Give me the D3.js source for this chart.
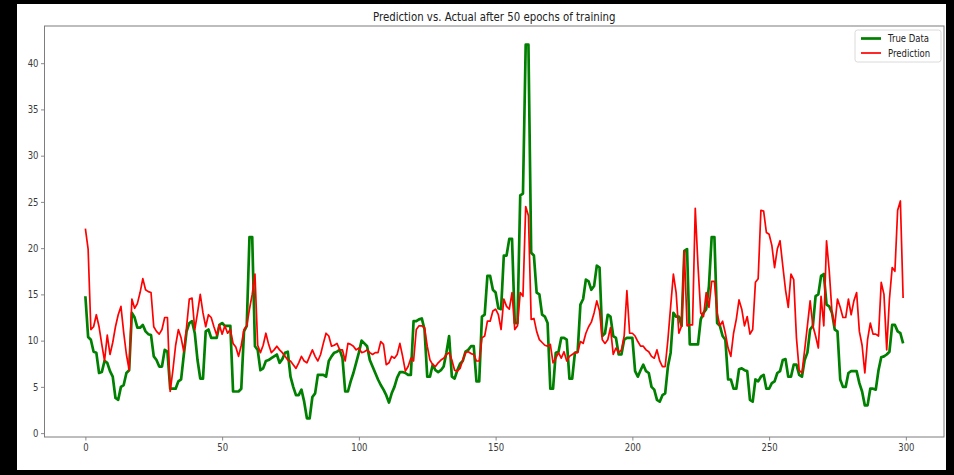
<!DOCTYPE html>
<html>
<head>
<meta charset="utf-8">
<script src="https://cdn.jsdelivr.net/npm/d3@7"></script>
<style>
  html, body { margin: 0; padding: 0; background: #000; }
  svg { display: block; }
  text { font-family: "DejaVu Sans", sans-serif; }
</style>
</head>
<body>
<svg id="chart" width="954" height="475"></svg>
<script>
// Measured series (one value per time step)
const trueData = [
  14.8, 10.4, 10.1, 8.8, 8.7, 6.5, 6.6, 7.8, 7.6, 6.7,
  6.1, 3.8, 3.6, 5.0, 5.2, 6.5, 6.8, 13.0, 12.5, 11.4,
  11.4, 11.7, 11.0, 10.7, 10.6, 8.3, 7.9, 7.2, 7.2, 9.0,
  8.8, 4.8, 4.8, 4.8, 5.6, 5.8, 8.5, 11.0, 11.9, 12.1,
  10.8, 7.9, 5.9, 5.9, 11.0, 11.2, 10.3, 10.3, 10.3, 11.7,
  11.9, 11.6, 11.6, 11.6, 4.5, 4.5, 4.5, 4.8, 11.0, 11.6,
  21.2, 21.2, 9.4, 9.0, 6.8, 7.0, 7.8, 7.9, 8.1, 8.3,
  8.5, 7.6, 8.0, 8.7, 8.8, 6.1, 5.0, 4.1, 4.1, 4.7,
  3.4, 1.6, 1.6, 3.9, 4.3, 6.3, 6.3, 6.3, 6.1, 7.8,
  8.3, 8.7, 8.8, 9.0, 8.1, 4.5, 4.5, 5.6, 6.5, 7.6,
  8.7, 10.0, 9.7, 9.4, 7.9, 7.2, 6.5, 5.8, 5.2, 4.7,
  4.1, 3.3, 4.3, 5.0, 6.0, 6.6, 6.6, 6.5, 6.3, 6.3,
  12.1, 12.1, 12.3, 12.4, 11.2, 6.1, 6.1, 7.4, 6.8, 6.6,
  6.8, 7.2, 8.7, 10.5, 6.1, 5.9, 6.8, 7.5, 7.8, 8.8,
  9.0, 9.4, 9.4, 5.6, 5.6, 12.6, 12.8, 17.0, 17.0, 15.5,
  15.2, 13.5, 13.4, 19.2, 19.2, 21.0, 21.0, 11.9, 11.9, 25.7,
  25.9, 42.0, 42.0, 19.5, 19.2, 15.2, 15.0, 12.8, 12.6, 11.9,
  4.8, 4.8, 8.7, 8.8, 10.3, 10.3, 10.1, 5.9, 5.9, 8.7,
  8.8, 13.9, 14.5, 16.6, 16.4, 15.5, 15.9, 18.1, 17.9, 10.5,
  10.8, 12.8, 12.6, 10.5, 10.3, 8.5, 8.5, 10.1, 10.3, 10.3,
  10.3, 6.7, 6.1, 6.8, 7.4, 6.7, 6.5, 5.0, 4.7, 3.6,
  3.4, 4.1, 4.3, 7.2, 8.7, 13.0, 12.6, 12.6, 11.6, 19.7,
  19.9, 9.6, 9.6, 9.6, 9.6, 12.3, 13.0, 13.4, 15.9, 21.2,
  21.2, 11.9, 11.6, 10.5, 10.1, 5.8, 5.8, 4.8, 4.8, 6.9,
  7.0, 6.8, 6.7, 3.6, 3.4, 5.8, 5.6, 6.1, 6.3, 4.8,
  4.8, 5.4, 5.6, 6.5, 6.7, 7.9, 8.0, 6.1, 6.1, 7.4,
  7.4, 6.3, 6.1, 7.9, 8.7, 11.2, 11.6, 14.8, 15.0, 17.0,
  17.2, 13.9, 13.7, 13.0, 11.2, 11.0, 5.8, 5.0, 5.0, 6.5,
  6.7, 6.7, 6.7, 5.4, 4.5, 3.0, 3.0, 4.8, 4.8, 4.7,
  6.8, 8.2, 8.3, 8.5, 8.8, 11.7, 11.7, 11.0, 10.8, 9.7
];

// Model output for the same time steps
const prediction = [
  22.1, 19.9, 11.2, 11.5, 12.8, 11.5, 9.6, 7.8, 10.6, 8.5,
  9.8, 11.5, 12.8, 13.7, 10.9, 8.5, 6.8, 14.5, 13.5, 14.0,
  15.2, 16.7, 15.5, 15.3, 15.2, 11.5, 11.0, 10.7, 11.2, 12.5,
  12.5, 4.5, 6.8, 9.5, 11.2, 10.3, 8.8, 11.5, 14.5, 14.6,
  11.2, 13.0, 15.0, 13.0, 11.5, 12.8, 12.5, 11.5, 10.6, 11.7,
  10.7, 11.6, 10.8, 11.2, 9.7, 9.3, 8.3, 9.5, 11.2, 11.6,
  13.4, 15.0, 17.2, 9.5, 8.7, 9.5, 10.8, 9.6, 8.7, 9.0,
  9.4, 9.0, 8.7, 8.3, 7.9, 7.8, 7.4, 7.0, 7.6, 8.3,
  7.8, 7.6, 8.3, 9.0, 8.3, 7.8, 8.5, 9.7, 10.8, 10.5,
  9.4, 9.5, 9.7, 9.0, 9.0, 7.8, 9.7, 9.6, 9.4, 9.0,
  9.2, 8.7, 8.8, 9.0, 8.7, 8.5, 8.7, 8.7, 9.9, 9.6,
  7.4, 7.6, 8.3, 8.1, 8.5, 9.7, 8.3, 6.7, 7.2, 8.1,
  7.8, 11.2, 11.6, 11.6, 11.4, 9.4, 7.9, 7.4, 7.2, 7.6,
  7.9, 8.1, 8.5, 8.7, 7.9, 6.8, 6.7, 7.0, 7.9, 8.7,
  8.8, 8.6, 8.5, 7.8, 7.8, 10.3, 10.5, 12.1, 12.1, 13.2,
  13.4, 12.8, 11.2, 14.5, 13.7, 13.4, 15.2, 11.2, 11.6, 15.2,
  14.8, 24.5, 23.5, 12.3, 12.4, 11.0, 10.1, 9.8, 9.5, 9.4,
  9.6, 7.6, 8.1, 8.7, 8.1, 8.8, 7.8, 8.3, 8.5, 8.7,
  8.7, 9.9, 9.7, 10.8, 11.5, 12.0, 13.0, 14.3, 13.2, 10.1,
  9.7, 10.1, 11.4, 8.5, 9.2, 8.7, 9.0, 10.5, 15.4, 10.8,
  10.8, 10.5, 9.9, 9.4, 9.4, 9.0, 8.8, 8.3, 8.1, 9.0,
  7.8, 7.2, 7.2, 10.1, 13.7, 17.2, 15.2, 10.8, 11.6, 19.7,
  11.6, 11.7, 11.7, 24.3, 18.1, 13.0, 12.6, 15.2, 13.6, 16.4,
  16.4, 13.0, 11.6, 12.1, 10.8, 9.2, 8.3, 10.8, 12.3, 14.4,
  13.4, 11.6, 12.6, 10.7, 11.2, 16.3, 16.7, 24.1, 24.0, 21.7,
  21.5, 20.3, 17.9, 19.9, 20.8, 18.1, 15.5, 13.6, 17.2, 16.6,
  10.3, 6.8, 6.5, 9.0, 11.6, 14.3, 11.6, 10.5, 9.2, 14.8,
  11.6, 20.8, 17.5, 13.0, 11.6, 14.5, 13.6, 12.5, 12.5, 14.5,
  12.8, 14.3, 15.2, 11.0, 9.5, 6.5, 10.1, 11.9, 10.7, 10.7,
  10.5, 16.3, 15.0, 9.0, 14.5, 17.9, 17.5, 24.1, 25.1, 14.6
];

const seriesNames = ["True Data", "Prediction"];
const seriesColors = ["green", "red"];
const xTickValues = [0, 50, 100, 150, 200, 250, 300];
const yTickValues = [0, 5, 10, 15, 20, 25, 30, 35, 40];
const chartTitle = "Prediction vs. Actual after 50 epochs of training";

// ---- layout ----
const W = 954, H = 475;
const page = { left: 17, top: 4, right: 946, bottom: 470 };
const plot = { left: 44.5, top: 26, right: 944, bottom: 437 };
const squeeze = 0.85;      // horizontal squeeze of the text glyphs
const axisGrey = "#7d7d7d";
const labelColor = "#3a3a3a";

const svg = d3.select("#chart");

svg.append("rect").attr("width", W).attr("height", H).attr("fill", "#000");
svg.append("rect")
  .attr("x", page.left).attr("y", page.top)
  .attr("width", page.right - page.left).attr("height", page.bottom - page.top)
  .attr("fill", "#fff");

// Matplotlib-style 5% margins around the data
const n = trueData.length;
const xPad = 0.05 * (n - 1);
const x = d3.scaleLinear()
  .domain([-xPad, (n - 1) + xPad])
  .range([plot.left, plot.right]);

const allVals = trueData.concat(prediction);
const [yMin, yMax] = d3.extent(allVals);
const yPad = 0.05 * (yMax - yMin);
const y = d3.scaleLinear()
  .domain([yMin - yPad, yMax + yPad])
  .range([plot.bottom, plot.top]);

svg.append("defs").append("clipPath").attr("id", "plotClip")
  .append("rect")
  .attr("x", plot.left).attr("y", plot.top)
  .attr("width", plot.right - plot.left).attr("height", plot.bottom - plot.top);

// ---- series ----
const line = d3.line()
  .x((d, i) => x(i))
  .y(d => y(d));

const lines = svg.append("g").attr("clip-path", "url(#plotClip)");
lines.append("path")
  .datum(trueData)
  .attr("fill", "none")
  .attr("stroke", seriesColors[0])
  .attr("stroke-width", 2.7)
  .attr("stroke-linejoin", "round")
  .attr("d", line);
lines.append("path")
  .datum(prediction)
  .attr("fill", "none")
  .attr("stroke", seriesColors[1])
  .attr("stroke-width", 1.7)
  .attr("stroke-linejoin", "round")
  .attr("d", line);

// ---- axes ----
const xAxis = svg.append("g")
  .attr("transform", `translate(0,${plot.bottom})`)
  .call(d3.axisBottom(x).tickValues(xTickValues).tickSize(3.5).tickPadding(3)
    .tickFormat(d3.format("d")));
const yAxis = svg.append("g")
  .attr("transform", `translate(${plot.left},0)`)
  .call(d3.axisLeft(y).tickValues(yTickValues).tickSize(3.5).tickPadding(3)
    .tickFormat(d3.format("d")));

[xAxis, yAxis].forEach(ax => {
  ax.select(".domain").remove();
  ax.selectAll(".tick line").attr("stroke", axisGrey).attr("stroke-width", 0.9);
  ax.selectAll(".tick text")
    .attr("fill", labelColor)
    .style("font-size", "10px")
    .style("font-family", "DejaVu Sans, sans-serif");
});
xAxis.selectAll(".tick text").attr("transform", `scale(${squeeze},1)`);
yAxis.selectAll(".tick text")
  .attr("x", -6 / squeeze)
  .attr("transform", `scale(${squeeze},1)`);

// plot frame
svg.append("rect")
  .attr("x", plot.left).attr("y", plot.top)
  .attr("width", plot.right - plot.left).attr("height", plot.bottom - plot.top)
  .attr("fill", "none")
  .attr("stroke", axisGrey)
  .attr("stroke-width", 1);

// ---- title ----
svg.append("g")
  .attr("transform", `translate(${(plot.left + plot.right) / 2},21) scale(${squeeze},1)`)
  .append("text")
  .attr("text-anchor", "middle")
  .attr("fill", "#222")
  .style("font-size", "12px")
  .text(chartTitle);

// ---- legend ----
const legend = svg.append("g").attr("transform", "translate(855,30)");
legend.append("rect")
  .attr("x", 0).attr("y", 0).attr("width", 86).attr("height", 32)
  .attr("rx", 2.5)
  .attr("fill", "#fff").attr("fill-opacity", 0.8)
  .attr("stroke", "#d6d6d6").attr("stroke-width", 0.9);

const entries = legend.selectAll("g.entry")
  .data(seriesNames)
  .join("g")
  .attr("class", "entry")
  .attr("transform", (d, i) => `translate(0,${8.5 + i * 14.5})`);
entries.append("line")
  .attr("x1", 6).attr("x2", 26)
  .attr("stroke", (d, i) => seriesColors[i])
  .attr("stroke-width", (d, i) => i === 0 ? 2.7 : 1.7);
entries.append("g")
  .attr("transform", `translate(33,3.5) scale(${squeeze},1)`)
  .append("text")
  .attr("fill", "#222")
  .style("font-size", "10px")
  .text(d => d);
</script>
</body>
</html>
